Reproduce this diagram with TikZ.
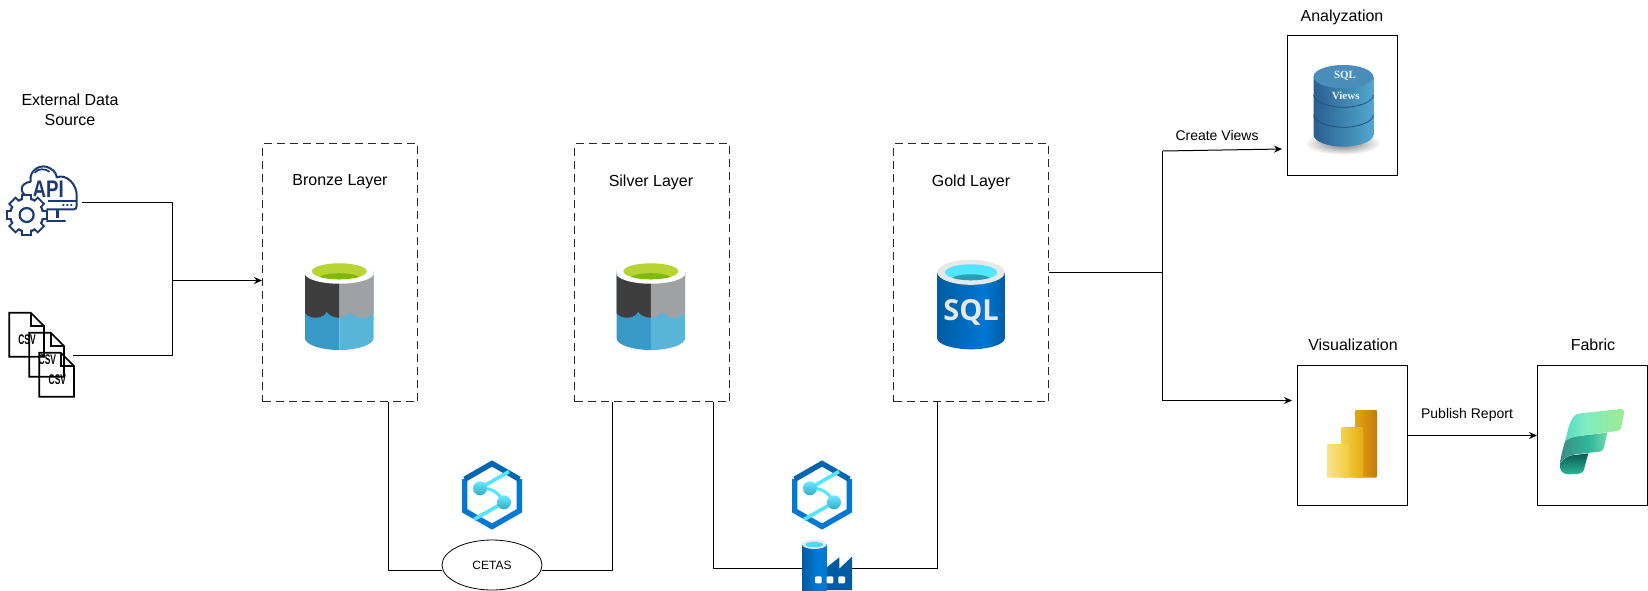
\documentclass[tikz,border=0pt]{standalone}
\usepackage{fontspec}
\setmainfont{Liberation Sans}
\newfontfamily\iconserif{Liberation Serif}
\newfontfamily\iconopen{Open Sans}
\usetikzlibrary{arrows.meta,shapes.geometric,calc}
\definecolor{navy}{HTML}{1B3A73}
\definecolor{bktDark}{HTML}{3E3E3E}
\definecolor{bktGrey}{HTML}{A0A1A2}
\definecolor{bktBlueL}{HTML}{3999C6}
\definecolor{bktBlueR}{HTML}{59B4D9}
\definecolor{bktGreen}{HTML}{B8D432}
\definecolor{bktGreenD}{HTML}{7FBA00}
\definecolor{azDark}{HTML}{005BA1}
\definecolor{azMid}{HTML}{0078D4}
\definecolor{azCyan}{HTML}{50E6FF}
\definecolor{azTeal}{HTML}{2A9DB5}
\definecolor{azRim}{HTML}{E8E8E8}
\pgfdeclarehorizontalshading{azBody}{100bp}{color(0bp)=(azDark);color(25bp)=(azDark);color(60bp)=(azMid);color(75bp)=(azDark);color(100bp)=(azDark)}
\pgfdeclarehorizontalshading{azTower}{100bp}{color(0bp)=(azDark);color(25bp)=(azDark);color(55bp)=(azMid);color(75bp)=(azMid);color(100bp)=(azMid)}
\definecolor{cylL}{HTML}{2A5F8F}
\definecolor{cylR}{HTML}{52A7D0}
\definecolor{cylT}{HTML}{4A8DBB}
\definecolor{pbiA}{HTML}{E5A50F}
\definecolor{pbiB}{HTML}{C27A10}
\definecolor{pbiC}{HTML}{F5D34E}
\definecolor{pbiD}{HTML}{E6AD10}
\definecolor{pbiE}{HTML}{F8E38A}
\definecolor{pbiF}{HTML}{F2CC3F}
\definecolor{fabA}{HTML}{56DCC4}
\definecolor{fabG}{HTML}{7FECC4}
\definecolor{fabF}{HTML}{A0EB90}
\definecolor{fabB}{HTML}{3D8C80}
\definecolor{fabM}{HTML}{2FB79A}
\definecolor{fabC}{HTML}{6FD9A8}
\definecolor{fabD}{HTML}{0C5A50}
\definecolor{fabE}{HTML}{2AB59B}
\pgfdeclarehorizontalshading{fabTop}{100bp}{color(0bp)=(fabA);color(25bp)=(fabA);color(42bp)=(fabG);color(75bp)=(fabF);color(100bp)=(fabF)}
\pgfdeclarehorizontalshading{fabMid}{100bp}{color(0bp)=(fabB);color(25bp)=(fabB);color(55bp)=(fabM);color(75bp)=(fabC);color(100bp)=(fabC)}
\tikzset{
  x=1pt,y=-1pt,
  txtL/.style={font=\fontsize{16}{20}\selectfont,align=center,inner sep=0pt},
  txtM/.style={font=\fontsize{14}{17}\selectfont,align=center,inner sep=0pt},
  txtS/.style={font=\fontsize{12}{14}\selectfont,align=center,inner sep=0pt},
  layerbox/.style={draw=black!85,line width=1pt,dash pattern=on 8pt off 5pt,minimum width=155pt,minimum height=258pt,inner sep=0pt},
  framebox/.style={draw=black,line width=1pt,minimum width=110pt,minimum height=140pt,inner sep=0pt},
  bound/.style={inner sep=0pt,minimum width=#1},
  conn/.style={draw=black,line width=1pt},
  arrowconn/.style={conn,-{Stealth[length=8pt,width=7pt]}},
}
\newcommand{\bucketicon}[1]{%
\begin{scope}[shift={(#1)}]
  \fill[bktBlueL] (-34.3,0) -- (-34.3,66.5) .. controls (-34.3,73) and (-18,78.3) .. (0,78.3) -- (0,0) -- cycle;
  \fill[bktBlueR] (34.3,0) -- (34.3,66.5) .. controls (34.3,73) and (18,78.3) .. (0,78.3) -- (0,0) -- cycle;
  \fill[bktDark] (-34.3,0) -- (-34.3,41.6) .. controls (-30,46) and (-26,46) .. (-22.7,46) .. controls (-18,46) and (-14,43) .. (-12.7,40) .. controls (-10,44) and (-5,46) .. (0,46) -- (0,0) -- cycle;
  \fill[bktGrey] (0,0) -- (0,46) .. controls (5,46) and (9,43) .. (10.7,40) .. controls (13,44) and (18,46) .. (22.3,46) .. controls (27,46) and (31,44) .. (34.3,41.6) -- (34.3,0) -- cycle;
  \fill[white] (0,1.5) ellipse [x radius=34.5,y radius=10.5];
  \fill[bktGreen] (0,-0.4) ellipse [x radius=27.5,y radius=8];
  \begin{scope}
    \clip (0,-0.4) ellipse [x radius=27.5,y radius=8];
    \fill[bktGreenD] (0,7) ellipse [x radius=21,y radius=5.5];
  \end{scope}
\end{scope}}
\newcommand{\synapseicon}[1]{%
\begin{scope}[shift={(#1)}]
  \draw[azMid,line width=5.4pt,line join=miter] (27.3,-15.8) -- (27.3,15.8) -- (0,31.5) -- (-27.3,15.8) -- (-27.3,-15.8);
  \draw[azDark!70!azMid,line width=5.4pt,line join=miter] (-27.3,-15.8) -- (0,-31.5) -- (27.3,-15.8);
  \draw[azCyan,line width=3.6pt] (-12,-6.7) -- (17,-23.5);
  \draw[azCyan,line width=3.6pt] (12,7.3) -- (-18,24.5);
  \draw[azCyan,line width=3pt] (-12,-6.7) .. controls (0,-7) and (6,-3) .. (12,7.3);
  \shade[top color=azCyan!85!white,bottom color=azTeal!80!azCyan] (-12,-6.7) circle [radius=7];
  \shade[top color=azCyan!85!white,bottom color=azTeal!80!azCyan] (12,7.3) circle [radius=7];
\end{scope}}
\begin{document}
\begin{tikzpicture}
\useasboundingbox (0,0) rectangle (1648,590);
\fill[white] (0,0) rectangle (1648,590);

% ---------- boxes and bounds
\node[layerbox] (bronze) at (340,272.7) {};
\node[layerbox] (silver) at (652,272.7) {};
\node[layerbox] (gold) at (971.2,272.7) {};
\node[framebox] (analyz) at (1342.5,105.5) {};
\node[framebox] (viz) at (1352.5,435.5) {};
\node[framebox] (fabric) at (1592.5,435.5) {};
\node[bound=76pt,minimum height=70pt] (api) at (44,202.5) {};
\node[bound=63pt,minimum height=84pt] (csv) at (41.5,355.5) {};
\node[bound=50pt,minimum height=50pt] (factory) at (827,565) {};
\node[draw=black,line width=0.8pt,fill=white,ellipse,minimum width=100pt,minimum height=50pt,inner sep=0pt,txtS] (cetas) at (492,565) {CETAS};

% ---------- connectors
\coordinate (merge) at (172.5,280.5);
\coordinate (split) at (1162.5,272.7);
\coordinate (viewsUp) at (1162.5,151);
\coordinate (viewsEnd) at (1282,149);
\coordinate (vizDown) at (1162.5,400.5);
\coordinate (vizEnd) at (1292,400.5);
\coordinate (cetasL) at (388.5,570.5);
\coordinate (cetasR) at (612.5,570.5);
\coordinate (silverD) at (713.5,568.5);
\coordinate (goldD) at (937.5,568.5);
\draw[conn] (api.east) -| (merge);
\draw[conn] (csv.east) -| (merge);
\draw[arrowconn] (merge) -- (bronze.west |- merge);
\draw[conn] (gold.east) -- (split);
\draw[conn] (viewsUp) -- (vizDown);
\draw[arrowconn] (viewsUp) -- (viewsEnd);
\draw[arrowconn] (vizDown) -- (vizEnd);
\draw[arrowconn] (viz.east) -- (fabric.west);
\draw[conn] (bronze.south -| cetasL) -- (cetasL) -- (cetas.west |- cetasL);
\draw[conn] (cetas.east |- cetasR) -- (cetasR) -- (silver.south -| cetasR);
\draw[conn] (silver.south -| silverD) -- (silverD) -- (factory.west |- silverD);
\draw[conn] (factory.east |- goldD) -- (goldD) -- (gold.south -| goldD);

% ---------- labels
\node[txtL] (extLabel) at (70,110) {External Data\\Source};
\node[txtL] (bronzeLabel) at (340,182) {Bronze Layer};
\node[txtL] (silverLabel) at (651,182) {Silver Layer};
\node[txtL] (goldLabel) at (971,182) {Gold Layer};
\node[txtL] (analyzLabel) at (1342,17) {Analyzation};
\node[txtL] (vizLabel) at (1353,345) {Visualization};
\node[txtL] (fabricLabel) at (1593,345) {Fabric};
\node[txtM] (viewsLabel) at (1217,135) {Create Views};
\node[txtM] (publishLabel) at (1467,415) {Publish Report};

% ---------- buckets
\bucketicon{339.3,271.7}
\bucketicon{650.8,271.7}

% ---------- SQL
\begin{scope}[shift={(971,272.3)}]
  \shade[shading=azBody] (-33.8,0) -- (-33.8,66) .. controls (-33.8,72) and (-18,77) .. (0,77) .. controls (18,77) and (33.8,72) .. (33.8,66) -- (33.8,0) -- cycle;
  \fill[azRim] (0,0) ellipse [x radius=33.8,y radius=12.5];
  \fill[azCyan] (0,0) ellipse [x radius=26,y radius=8];
  \begin{scope}
    \clip (0,0) ellipse [x radius=26,y radius=8];
    \fill[azTeal] (0,7.5) ellipse [x radius=20,y radius=5.5];
  \end{scope}
  \node[text=azRim,font=\iconopen\bfseries\fontsize{29}{29}\selectfont,inner sep=0pt] (sqlText) at (0,40) {SQL};
\end{scope}

% ---------- synapse
\synapseicon{492,495}
\synapseicon{822,495}

% ---------- factory
\begin{scope}[shift={(380,440)},x=0.33333pt,y=-0.33333pt]
  \fill[azDark] (1335,386) -- (1378,352) -- (1378,386) -- (1416,350) -- (1416,450) -- (1335,450) -- cycle;
  \shade[shading=azTower] (1266,313) -- (1266,450) -- (1340,450) -- (1340,313) -- cycle;
  \fill[azRim] (1303,313) ellipse [x radius=37,y radius=14];
  \fill[azCyan!85!azTeal] (1303,314) ellipse [x radius=27,y radius=8];
  \fill[white,rounded corners=1pt] (1305,409) rectangle (1325,430);
  \fill[white,rounded corners=1pt] (1340,409) rectangle (1360,430);
  \fill[white,rounded corners=1pt] (1375,409) rectangle (1395,430);
\end{scope}

% ---------- API icon
\begin{scope}[shift={(0,70)},x=0.33333pt,y=-0.33333pt]
  \draw[navy,line width=2pt,line cap=round,line join=round]
    (82,380) .. controls (58,368) and (58,340) .. (92,335) .. controls (85,300) and (125,278) .. (150,295)
    .. controls (165,302) and (170,315) .. (170,322) .. controls (200,310) and (232,345) .. (230,378)
    -- (230,408) .. controls (230,415) and (226,418) .. (222,418) -- (140,418);
  \draw[navy,line width=1.7pt,line cap=round] (105,308) .. controls (112,295) and (138,295) .. (148,305);
  \draw[navy,line width=1.7pt] (145,392) -- (230,392);
  \foreach \dotx in {190,202,214}{\fill[navy] (\dotx,405) circle [radius=3.6];}
  \draw[navy,line width=3.4pt] (172,420) -- (172,445);
  \draw[navy,line width=2.4pt,line cap=round] (135,453) -- (195,453);
  \node[text=navy,font=\bfseries\fontsize{24}{24}\selectfont,inner sep=0pt] (apiText) at (145,358) {\scalebox{.78}[1]{API}};
  \fill[white] (80,435) circle [radius=62];
  \foreach \ang in {0,45,...,315}{\fill[navy,rotate around={\ang:(80,435)}] (64,372) rectangle (96,392);}
  \fill[navy] (80,435) circle [radius=53];
  \fill[white] (80,435) circle [radius=46];
  \foreach \ang in {0,45,...,315}{\fill[white,rotate around={\ang:(80,435)}] (70,378) rectangle (90,394);}
  \draw[navy,line width=2.2pt] (80,435) circle [radius=21];
\end{scope}

% ---------- CSV icon
\begin{scope}[shift={(0,70)},x=0.33333pt,y=-0.33333pt]
  \foreach \dx/\dy in {0/0,60/60,90/120}{
    \begin{scope}[shift={(\dx,\dy)}]
      \draw[black,line width=1.7pt,line join=miter] (28,728) -- (92,728) -- (132,768) -- (132,860) -- (28,860) -- cycle;
      \draw[black,line width=1.7pt] (92,728) -- (92,768) -- (132,768);
    \end{scope}
  }
  \node[font=\bfseries\fontsize{14}{14}\selectfont,inner sep=0pt] (csvA) at (81,808) {\scalebox{.6}[1]{CSV}};
  \node[font=\bfseries\fontsize{14}{14}\selectfont,inner sep=0pt] (csvB) at (142,868) {\scalebox{.6}[1]{CSV}};
  \node[font=\bfseries\fontsize{14}{14}\selectfont,inner sep=0pt] (csvC) at (172,928) {\scalebox{.6}[1]{CSV}};
\end{scope}

% ---------- cylinder (Views)
\begin{scope}[shift={(1270,0)},x=0.33333pt,y=-0.33333pt]
  \shade[inner color=black!55,outer color=white] (218,430) ellipse [x radius=115,y radius=34];
  \shade[left color=cylL,right color=cylR] (131,230) -- (131,405) .. controls (131,425) and (175,440) .. (220,440) .. controls (265,440) and (310,425) .. (310,405) -- (310,230) -- cycle;
  \fill[cylT] (220,230) ellipse [x radius=89.5,y radius=35];
  \draw[cylL!85!black,line width=0.8pt] (131,285) .. controls (131,305) and (175,322) .. (220,322) .. controls (265,322) and (310,305) .. (310,285);
  \draw[cylL!85!black,line width=0.8pt] (131,345) .. controls (131,365) and (175,382) .. (220,382) .. controls (265,382) and (310,365) .. (310,345);
  \node[text=white!90!cylT,font=\iconserif\bfseries\fontsize{11}{11}\selectfont,inner sep=0pt] (cylSql) at (225,226) {SQL};
  \node[text=white!90!cylT,font=\iconserif\bfseries\fontsize{11}{11}\selectfont,inner sep=0pt] (cylViews) at (227,288) {Views};
\end{scope}

% ---------- Power BI
\begin{scope}[shift={(1280,340)},x=0.33333pt,y=-0.33333pt]
  \shade[left color=pbiA,right color=pbiB,rounded corners=1pt] (225,210) rectangle (291,413);
  \shade[left color=pbiC,right color=pbiD,rounded corners=1pt] (183,261) rectangle (249,413);
  \shade[left color=pbiE,right color=pbiF,rounded corners=1pt] (141,312) rectangle (207,413);
\end{scope}

% ---------- Fabric
\begin{scope}[shift={(1550,400)},x=0.33333pt,y=-0.33333pt]
  \shade[top color=fabD,bottom color=fabE] (30,190) .. controls (45,170) and (60,165) .. (75,165) -- (115,160) -- (102,208) .. controls (98,218) and (92,222) .. (82,222) -- (55,223) .. controls (35,223) and (27,208) .. (30,190) -- cycle;
  \shade[shading=fabMid] (30,190) .. controls (33,165) and (40,140) .. (47,118) .. controls (60,110) and (70,110) .. (85,108) -- (172,98) -- (161,145) .. controls (158,152) and (155,154) .. (148,155) -- (85,162) .. controls (60,165) and (40,170) .. (30,190) -- cycle;
  \shade[shading=fabTop] (45,125) .. controls (50,105) and (55,80) .. (62,65) .. controls (68,48) and (78,42) .. (92,40) -- (212,27) .. controls (220,26) and (224,30) .. (222,38) -- (214,82) .. controls (212,90) and (208,92) .. (200,93) -- (90,108) .. controls (70,110) and (55,115) .. (45,125) -- cycle;
\end{scope}
\end{tikzpicture}
\end{document}
